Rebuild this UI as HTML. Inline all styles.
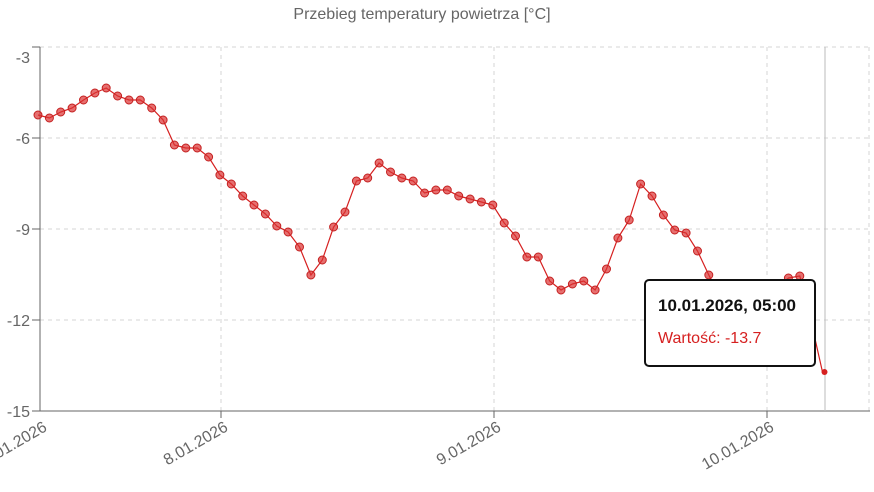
<!DOCTYPE html>
<html><head><meta charset="utf-8"><style>
body{margin:0;background:#fff;font-family:"Liberation Sans",sans-serif;}
</style></head><body>
<svg width="874" height="487" xmlns="http://www.w3.org/2000/svg" font-family="Liberation Sans, sans-serif">
<text x="422" y="19" text-anchor="middle" font-size="16" fill="#666">Przebieg temperatury powietrza [°C]</text>
<g stroke="#d6d6d6" stroke-dasharray="4,4" stroke-width="1">
<line x1="40" y1="47" x2="870" y2="47"/><line x1="40" y1="138" x2="870" y2="138"/>
<line x1="40" y1="229" x2="870" y2="229"/><line x1="40" y1="320" x2="870" y2="320"/>
<line x1="221" y1="47" x2="221" y2="411"/><line x1="494" y1="47" x2="494" y2="411"/><line x1="767" y1="47" x2="767" y2="411"/><line x1="869" y1="47" x2="869" y2="411"/>
</g>
<line x1="40" y1="47" x2="40" y2="411" stroke="#666"/>
<line x1="32" y1="411" x2="870" y2="411" stroke="#666"/>
<g stroke="#666"><line x1="32" y1="47" x2="40" y2="47"/><line x1="32" y1="138" x2="40" y2="138"/><line x1="32" y1="229" x2="40" y2="229"/><line x1="32" y1="320" x2="40" y2="320"/>
<line x1="221" y1="411" x2="221" y2="418"/><line x1="494" y1="411" x2="494" y2="418"/><line x1="767" y1="411" x2="767" y2="418"/></g>
<g font-size="16" fill="#666" text-anchor="end">
<text x="30" y="63">-3</text><text x="30" y="144">-6</text><text x="30" y="235">-9</text><text x="30" y="326">-12</text><text x="30" y="417">-15</text>
</g>
<g font-size="16" fill="#666" text-anchor="end">
<text transform="translate(48,430) rotate(-30)">7.01.2026</text>
<text transform="translate(229,430) rotate(-30)">8.01.2026</text>
<text transform="translate(502,430) rotate(-30)">9.01.2026</text>
<text transform="translate(775,430) rotate(-30)">10.01.2026</text>
</g>
<line x1="825" y1="47" x2="825" y2="411" stroke="#bbb"/>
<polyline fill="none" stroke="#d62020" stroke-width="1.2" points="38,115 49.4,118 60.7,112 72.1,108 83.5,100 94.9,93 106.2,88 117.6,96 129,100 140.3,100 151.7,108 163.1,120 174.4,145 185.8,148 197.2,148 208.6,157 219.9,175 231.3,184 242.7,196 254,205 265.4,214 276.8,226 288.1,232 299.5,247 310.9,275 322.3,260 333.6,227 345,212 356.4,181 367.7,178 379.1,163 390.5,172 401.8,178 413.2,181 424.6,193 435.9,190 447.3,190 458.7,196 470.1,199 481.4,202 492.8,205 504.2,223 515.5,236 526.9,257 538.3,257 549.7,281 561,290 572.4,284 583.8,281 595.1,290 606.5,269 617.9,238 629.2,220 640.6,184 652,196 663.4,215 674.7,230 686.1,233 697.5,251 708.8,275 720.2,298 731.6,305 742.9,305 754.3,300 765.7,295 777.1,288 788.4,278 799.8,276 811.2,322 822.5,372"/>
<g fill="rgba(220,50,50,0.7)" stroke="#c42020" stroke-width="1">
<circle cx="38" cy="115" r="4"/><circle cx="49.4" cy="118" r="4"/><circle cx="60.7" cy="112" r="4"/><circle cx="72.1" cy="108" r="4"/><circle cx="83.5" cy="100" r="4"/><circle cx="94.9" cy="93" r="4"/><circle cx="106.2" cy="88" r="4"/><circle cx="117.6" cy="96" r="4"/><circle cx="129" cy="100" r="4"/><circle cx="140.3" cy="100" r="4"/><circle cx="151.7" cy="108" r="4"/><circle cx="163.1" cy="120" r="4"/><circle cx="174.4" cy="145" r="4"/><circle cx="185.8" cy="148" r="4"/><circle cx="197.2" cy="148" r="4"/><circle cx="208.6" cy="157" r="4"/><circle cx="219.9" cy="175" r="4"/><circle cx="231.3" cy="184" r="4"/><circle cx="242.7" cy="196" r="4"/><circle cx="254" cy="205" r="4"/><circle cx="265.4" cy="214" r="4"/><circle cx="276.8" cy="226" r="4"/><circle cx="288.1" cy="232" r="4"/><circle cx="299.5" cy="247" r="4"/><circle cx="310.9" cy="275" r="4"/><circle cx="322.3" cy="260" r="4"/><circle cx="333.6" cy="227" r="4"/><circle cx="345" cy="212" r="4"/><circle cx="356.4" cy="181" r="4"/><circle cx="367.7" cy="178" r="4"/><circle cx="379.1" cy="163" r="4"/><circle cx="390.5" cy="172" r="4"/><circle cx="401.8" cy="178" r="4"/><circle cx="413.2" cy="181" r="4"/><circle cx="424.6" cy="193" r="4"/><circle cx="435.9" cy="190" r="4"/><circle cx="447.3" cy="190" r="4"/><circle cx="458.7" cy="196" r="4"/><circle cx="470.1" cy="199" r="4"/><circle cx="481.4" cy="202" r="4"/><circle cx="492.8" cy="205" r="4"/><circle cx="504.2" cy="223" r="4"/><circle cx="515.5" cy="236" r="4"/><circle cx="526.9" cy="257" r="4"/><circle cx="538.3" cy="257" r="4"/><circle cx="549.7" cy="281" r="4"/><circle cx="561" cy="290" r="4"/><circle cx="572.4" cy="284" r="4"/><circle cx="583.8" cy="281" r="4"/><circle cx="595.1" cy="290" r="4"/><circle cx="606.5" cy="269" r="4"/><circle cx="617.9" cy="238" r="4"/><circle cx="629.2" cy="220" r="4"/><circle cx="640.6" cy="184" r="4"/><circle cx="652" cy="196" r="4"/><circle cx="663.4" cy="215" r="4"/><circle cx="674.7" cy="230" r="4"/><circle cx="686.1" cy="233" r="4"/><circle cx="697.5" cy="251" r="4"/><circle cx="708.8" cy="275" r="4"/><circle cx="788.4" cy="278" r="4"/><circle cx="799.8" cy="276" r="4"/><circle cx="811.2" cy="322" r="4"/>
</g>
<circle cx="824.5" cy="372" r="3" fill="#d62020"/>
<rect x="645" y="280" width="170" height="86" rx="4" fill="#fff" stroke="#111" stroke-width="2"/>
<text x="658" y="311" font-size="17" font-weight="bold" fill="#111">10.01.2026, 05:00</text>
<text x="658" y="343" font-size="16" fill="#d62020">Wartość: -13.7</text>
</svg>
</body></html>
